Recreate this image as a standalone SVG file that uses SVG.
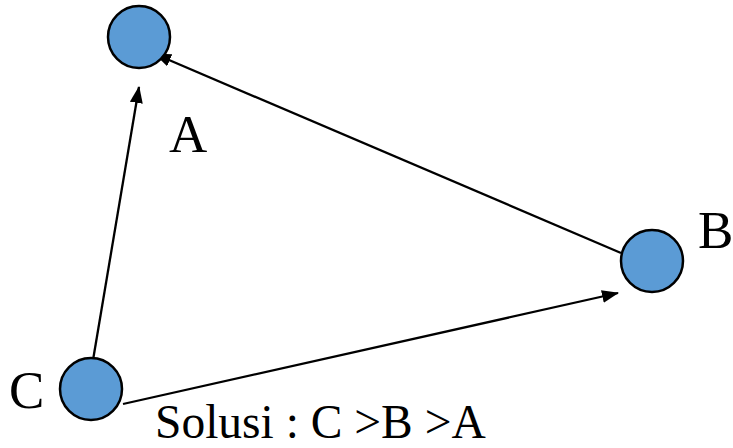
<svg xmlns="http://www.w3.org/2000/svg" width="733" height="448" viewBox="0 0 733 448">
<defs>
<style>
.node{fill:#5b9bd5;stroke:#000;stroke-width:2.5}
.edge{stroke:#000;stroke-width:2.3;fill:none}
.lbl{font-family:"Liberation Serif","Times New Roman",serif;font-size:53px;fill:#000}
.sol{font-family:"Liberation Serif","Times New Roman",serif;font-size:47.5px;fill:#000}
</style>
<marker id="ah" markerWidth="17" markerHeight="13" refX="16" refY="6.5" orient="auto" markerUnits="userSpaceOnUse">
<path d="M0,0 L17,6.5 L0,13 Z" fill="#000"/>
</marker>
</defs>
<rect width="733" height="448" fill="#fff"/>
<g id="edges">
<line class="edge" x1="91" y1="372" x2="139" y2="87" marker-end="url(#ah)"/>
<line class="edge" x1="621" y1="253" x2="155" y2="54" marker-end="url(#ah)"/>
<line class="edge" x1="123" y1="404" x2="618" y2="293" marker-end="url(#ah)"/>
</g>
<g id="A">
<circle class="node" cx="139" cy="37" r="31"/>
<text class="lbl" x="169" y="152">A</text>
</g>
<g id="B">
<circle class="node" cx="652" cy="261" r="31"/>
<text class="lbl" x="698" y="248">B</text>
</g>
<g id="C">
<circle class="node" cx="91" cy="389" r="31"/>
<text class="lbl" x="9" y="408">C</text>
</g>
<text class="sol" x="155" y="438">Solusi : C &gt;B &gt;A</text>
</svg>
